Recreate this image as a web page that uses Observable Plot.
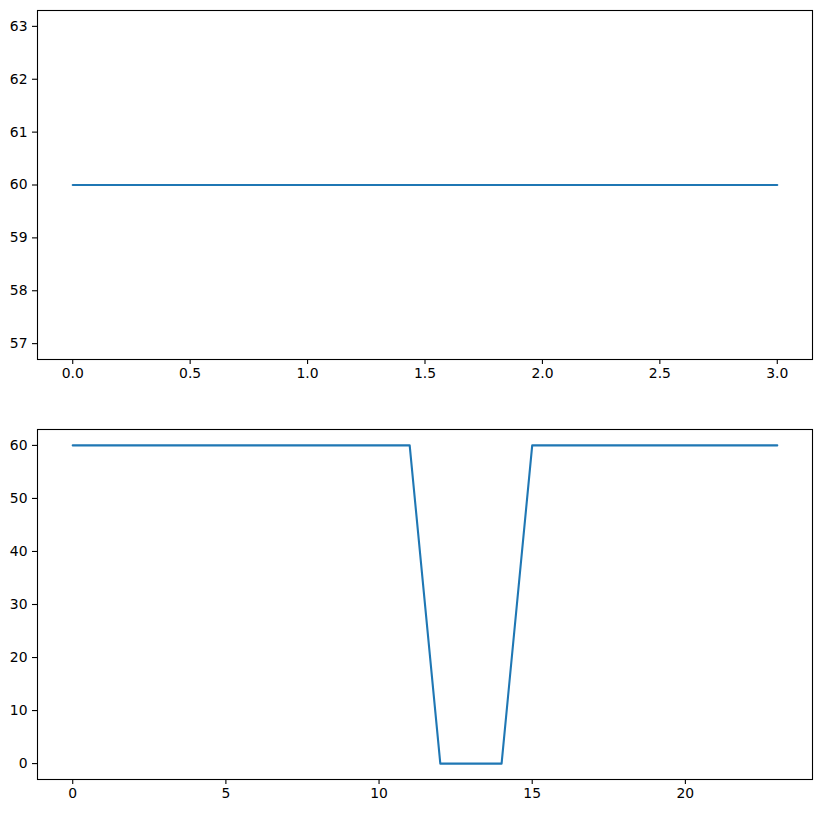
<!DOCTYPE html>
<html>
<head>
<meta charset="utf-8">
<script src="https://cdn.jsdelivr.net/npm/d3@7"></script>
<script src="https://cdn.jsdelivr.net/npm/@observablehq/plot@0.6"></script>
<style>
  html, body { margin: 0; padding: 0; background: #fff; }
  #chart svg { display: block; }
</style>
</head>
<body>
<div id="chart"></div>
<script>
// Top panel data
const topX = [0, 1, 2, 3];
const topY = [60, 60, 60, 60];
const topXTicks = [0, 0.5, 1.0, 1.5, 2.0, 2.5, 3.0];
const topYTicks = [57, 58, 59, 60, 61, 62, 63];

// Bottom panel data
const bottomX = [0,1,2,3,4,5,6,7,8,9,10,11,12,13,14,15,16,17,18,19,20,21,22,23];
const bottomY = [60,60,60,60,60,60,60,60,60,60,60,60,0,0,0,60,60,60,60,60,60,60,60,60];
const bottomXTicks = [0, 5, 10, 15, 20];
const bottomYTicks = [0, 10, 20, 30, 40, 50, 60];

const lineColor = "#1f77b4";
const font = { fontFamily: "'DejaVu Sans', sans-serif", fontSize: "13.9px", color: "#000", background: "#fff", overflow: "visible" };

function panel(xs, ys, xTicks, yTicks, xFmt, xDomain, yDomain, height, mt, mb) {
  const data = xs.map((x, i) => ({ x, y: ys[i] }));
  return Plot.plot({
    width: 822,
    height,
    marginLeft: 37,
    marginRight: 10,
    marginTop: mt,
    marginBottom: mb,
    style: font,
    x: { domain: xDomain },
    y: { domain: yDomain },
    marks: [
      Plot.line(data, { x: "x", y: "y", stroke: lineColor, strokeWidth: 2.1 }),
      Plot.frame({ stroke: "#000", strokeWidth: 1.1 }),
      Plot.axisX({ ticks: xTicks, tickFormat: xFmt, tickSize: 5, tickPadding: 4, label: null, strokeWidth: 1.1, fontSize: 13.9, fontFamily: "DejaVu Sans" }),
      Plot.axisY({ ticks: yTicks, tickFormat: d => String(d), tickSize: 5, tickPadding: 5, label: null, strokeWidth: 1.1, fontSize: 13.9, fontFamily: "DejaVu Sans" })
    ]
  });
}

const chart = document.getElementById("chart");
chart.append(panel(topX, topY, topXTicks, topYTicks, d => d.toFixed(1), [-0.15, 3.15], [56.7, 63.3], 400, 10, 41));
chart.append(panel(bottomX, bottomY, bottomXTicks, bottomYTicks, d => String(d), [-1.15, 24.15], [-3, 63], 413, 29, 34));
</script>
</body>
</html>
